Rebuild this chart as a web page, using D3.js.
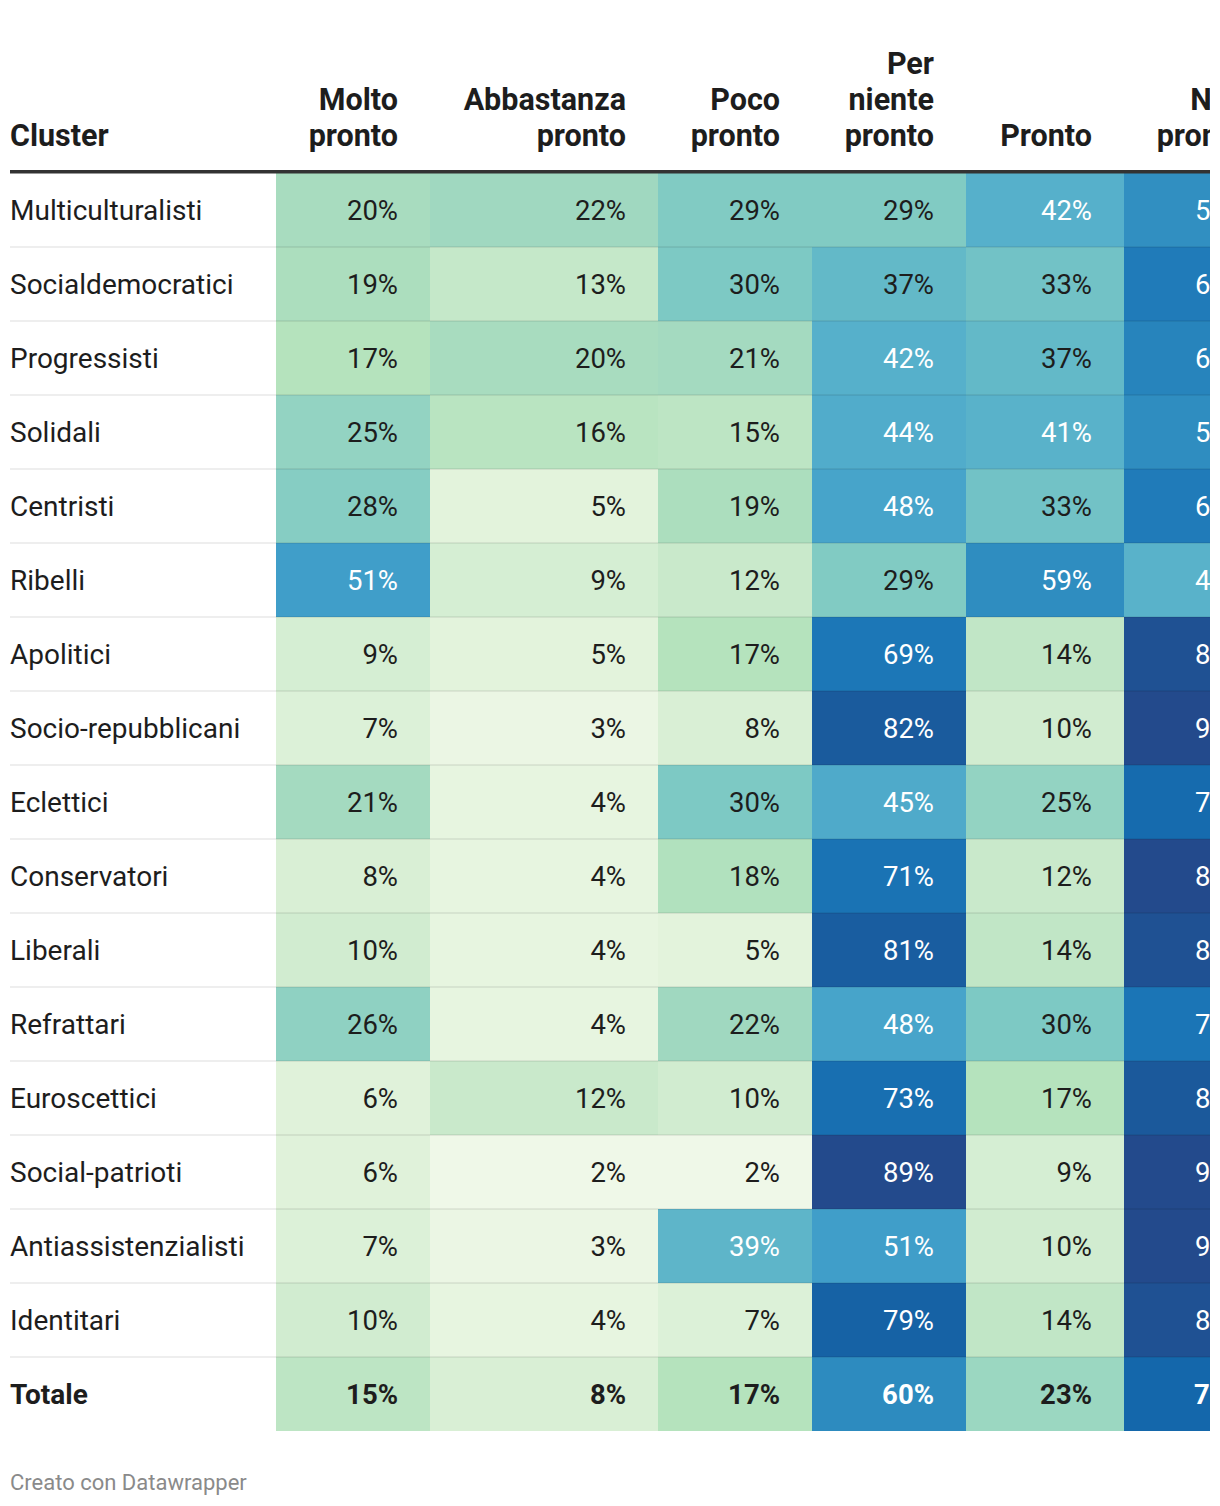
<!DOCTYPE html>
<html><head><meta charset="utf-8">
<script src="https://cdn.jsdelivr.net/npm/d3@7"></script>
<style>body{margin:0;background:#fff;} svg{display:block;font-family:Roboto,"Noto Sans",sans-serif;}</style>
</head><body>
<svg id="chart" width="1220" height="1506"></svg>
<script>
const clusters = ["Multiculturalisti","Socialdemocratici","Progressisti","Solidali","Centristi","Ribelli","Apolitici","Socio-repubblicani","Eclettici","Conservatori","Liberali","Refrattari","Euroscettici","Social-patrioti","Antiassistenzialisti","Identitari","Totale"];
const columns = ["Molto pronto","Abbastanza pronto","Poco pronto","Per niente pronto","Pronto","Non pronto"];
const headerLines = [["Molto","pronto"],["Abbastanza","pronto"],["Poco","pronto"],["Per","niente","pronto"],["Pronto"],["Non","pronto"]];
const moltoPronto      = [20,19,17,25,28,51,9,7,21,8,10,26,6,6,7,10,15];
const abbastanzaPronto = [22,13,20,16,5,9,5,3,4,4,4,4,12,2,3,4,8];
const pocoPronto       = [29,30,21,15,19,12,17,8,30,18,5,22,10,2,39,7,17];
const perNientePronto  = [29,37,42,44,48,29,69,82,45,71,81,48,73,89,51,79,60];
const pronto           = [42,33,37,41,33,59,14,10,25,12,14,30,17,9,10,14,23];
const nonPronto        = [58,67,63,59,67,41,86,90,75,89,86,70,83,91,90,86,77];
const series = [moltoPronto,abbastanzaPronto,pocoPronto,perNientePronto,pronto,nonPronto];

const svg = d3.select("#chart");
const left = 10, right = 1210;
const colEdges = [276,430,658,812,966,1124];
const colWidths = [154,228,154,154,158,154];
const xCol = d3.scaleOrdinal(columns, colEdges);
const wCol = d3.scaleOrdinal(columns, colWidths);
const y = d3.scaleBand(clusters, [173, 173 + 74*clusters.length]).padding(0);

const color = d3.scaleLinear()
  .domain([2,5,9,12,15,17,20,25,29,37,42,51,60,69,77,82,89])
  .range(["#eff8e8","#e3f3dc","#d5eed3","#c9e9cb","#bde5c4","#b5e3bd","#a8dcbf","#93d3c2","#81cbc3","#63b9c8","#56b0cb","#409ec9","#2d8bbf","#1c77b7","#1467ab","#1a5b9d","#234a8c"])
  .clamp(true);

svg.append("clipPath").attr("id","clip").append("rect")
  .attr("x",0).attr("y",0).attr("width",right).attr("height",1506);
const g = svg.append("g").attr("clip-path","url(#clip)");

// header
const hBase = 146, lh = 36, hSize = 30.5;
g.append("text").attr("x",left).attr("y",hBase).attr("font-size",hSize).attr("font-weight",700)
  .attr("fill","#1d1d1d").text("Cluster");
columns.forEach((c,i)=>{
  const lines = headerLines[i];
  const t = g.append("text").attr("text-anchor","end").attr("font-size",hSize).attr("font-weight",700).attr("fill","#1d1d1d");
  lines.forEach((ln,j)=>{
    t.append("tspan").attr("x", xCol(c)+wCol(c)-32).attr("y", hBase - (lines.length-1-j)*lh).text(ln);
  });
});

// cells
const cells = [];
clusters.forEach((cl,r)=>columns.forEach((c,ci)=>cells.push({cl, c, v: series[ci][r], total: cl==="Totale"})));
g.selectAll("rect.cell").data(cells).join("rect").attr("class","cell")
  .attr("x",d=>xCol(d.c)).attr("y",d=>y(d.cl)).attr("width",d=>wCol(d.c)).attr("height",y.bandwidth())
  .attr("fill",d=>color(d.v));

// row separators
g.selectAll("rect.sep").data(clusters.slice(1)).join("rect").attr("class","sep")
  .attr("x",left).attr("width",right-left).attr("y",d=>y(d)-1).attr("height",2)
  .attr("fill","rgba(0,0,0,0.065)");

// header line
g.append("rect").attr("x",left).attr("y",170).attr("width",right-left).attr("height",3.5).attr("fill","#333");

// row labels
g.selectAll("text.lab").data(clusters).join("text").attr("class","lab")
  .attr("x",left).attr("y",d=>y(d)+y.bandwidth()/2).attr("dominant-baseline","central")
  .attr("font-size",28).attr("font-weight",d=>d==="Totale"?700:400).attr("fill","#1d1d1d").text(d=>d);

// values
g.selectAll("text.val").data(cells).join("text").attr("class","val")
  .attr("x",d=>xCol(d.c)+wCol(d.c)-32).attr("y",d=>y(d.cl)+y.bandwidth()/2)
  .attr("dominant-baseline","central").attr("text-anchor","end")
  .attr("font-size",27.5).attr("font-weight",d=>d.total?700:400)
  .attr("fill",d=>d.v>=38?"#ffffff":"#1d1d1d").text(d=>d.v+"%");

// footer
svg.append("text").attr("x",left).attr("y",1490).attr("font-size",22).attr("fill","#8a8a8a").text("Creato con Datawrapper");
</script>
</body></html>
